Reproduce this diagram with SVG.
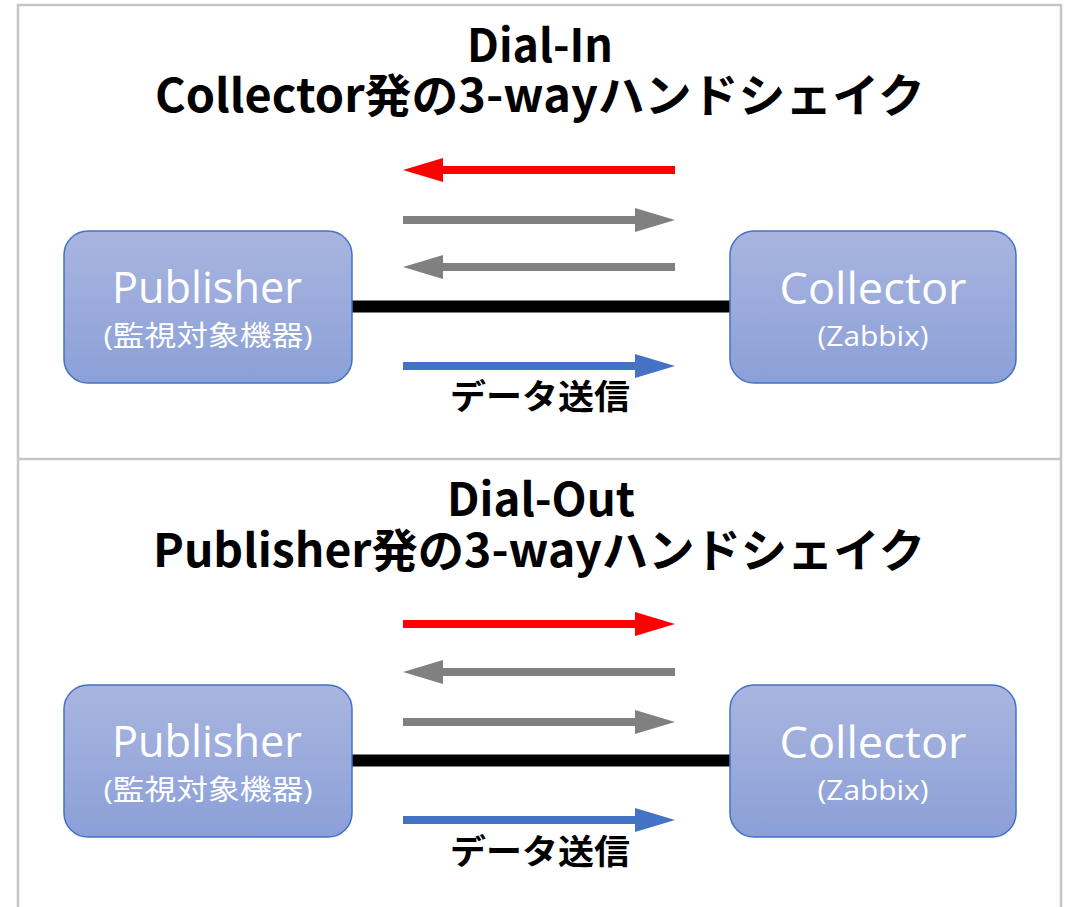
<svg xmlns="http://www.w3.org/2000/svg" width="1066" height="907" viewBox="0 0 1066 907">
  <style>
    .frame { stroke: #C6C6C6; stroke-width: 2.5; fill: none; }
    .title { font-family: "Noto Sans CJK JP", "Liberation Sans", sans-serif; font-weight: 700; font-size: 46px; fill: #000; text-anchor: middle; }
    .box { fill: url(#boxGrad); stroke: #4472C4; stroke-width: 1.5; }
    .main { font-family: "Open Sans", "Noto Sans CJK JP", sans-serif; font-size: 44px; fill: #fff; text-anchor: middle; }
    .sub { font-family: "Open Sans", "Noto Sans CJK JP", sans-serif; font-size: 28px; fill: #fff; text-anchor: middle; }
    .label { font-family: "Noto Sans CJK JP", "Liberation Sans", sans-serif; font-weight: 700; font-size: 34px; fill: #000; text-anchor: middle; }
    .link { stroke: #000; stroke-width: 12; }
    .a-red { stroke: #FF0000; stroke-width: 8; fill: none; marker-end: url(#hRed); }
    .a-gray { stroke: #808080; stroke-width: 8; fill: none; marker-end: url(#hGray); }
    .a-blue { stroke: #4472C4; stroke-width: 8; fill: none; marker-end: url(#hBlue); }
  </style>
  <defs>
    <linearGradient id="boxGrad" x1="0" y1="0" x2="0" y2="1">
      <stop offset="0" stop-color="#A9B5DF"/>
      <stop offset="1" stop-color="#8BA0D8"/>
    </linearGradient>
    <marker id="hRed" markerUnits="userSpaceOnUse" markerWidth="40" markerHeight="24" refX="0" refY="12" orient="auto" overflow="visible">
      <path d="M0,0 L40,12 L0,24 Z" fill="#FF0000"/>
    </marker>
    <marker id="hGray" markerUnits="userSpaceOnUse" markerWidth="40" markerHeight="24" refX="0" refY="12" orient="auto" overflow="visible">
      <path d="M0,0 L40,12 L0,24 Z" fill="#808080"/>
    </marker>
    <marker id="hBlue" markerUnits="userSpaceOnUse" markerWidth="40" markerHeight="24" refX="0" refY="12" orient="auto" overflow="visible">
      <path d="M0,0 L40,12 L0,24 Z" fill="#4472C4"/>
    </marker>
  </defs>

  <rect width="1066" height="907" fill="#fff"/>

  <g id="frame">
    <path class="frame" d="M18,910 L18,5 L1061,5 L1061,910"/>
    <line class="frame" x1="18" y1="459" x2="1061" y2="459"/>
  </g>

  <g id="title-dial-in">
    <text class="title"><tspan x="540" y="62" textLength="146" lengthAdjust="spacingAndGlyphs">Dial-In</tspan><tspan x="540" y="112" textLength="770" lengthAdjust="spacingAndGlyphs">Collector発の3-wayハンドシェイク</tspan></text>
  </g>

  <g id="title-dial-out">
    <text class="title"><tspan x="541" y="516" textLength="188" lengthAdjust="spacingAndGlyphs">Dial-Out</tspan><tspan x="539" y="567" textLength="772" lengthAdjust="spacingAndGlyphs">Publisher発の3-wayハンドシェイク</tspan></text>
  </g>

  <g id="connectors">
    <line class="link" x1="352" y1="306.5" x2="730" y2="306.5"/>
    <path class="a-red" d="M675,170 L443,170"/>
    <path class="a-gray" d="M403,220 L635,220"/>
    <path class="a-gray" d="M675,267 L443,267"/>
    <path class="a-blue" d="M403,366 L635,366"/>

    <line class="link" x1="352" y1="760.5" x2="730" y2="760.5"/>
    <path class="a-red" d="M403,624 L635,624"/>
    <path class="a-gray" d="M675,672 L443,672"/>
    <path class="a-gray" d="M403,722 L635,722"/>
    <path class="a-blue" d="M403,820 L635,820"/>
  </g>

  <g id="label-send-1">
    <text class="label" x="540" y="409" textLength="180" lengthAdjust="spacingAndGlyphs">データ送信</text>
  </g>
  <g id="label-send-2">
    <text class="label" x="540" y="864" textLength="180" lengthAdjust="spacingAndGlyphs">データ送信</text>
  </g>

  <g id="publisher-1">
    <rect class="box" x="64" y="231" width="288" height="152" rx="24"/>
    <text class="main" x="207" y="303" textLength="190" lengthAdjust="spacingAndGlyphs">Publisher</text>
    <text class="sub" x="208" y="346" textLength="209" lengthAdjust="spacingAndGlyphs">(監視対象機器)</text>
  </g>
  <g id="collector-1">
    <rect class="box" x="730" y="231" width="286" height="152" rx="24"/>
    <text class="main" x="873" y="304" textLength="187" lengthAdjust="spacingAndGlyphs">Collector</text>
    <text class="sub" x="873" y="346" textLength="111" lengthAdjust="spacingAndGlyphs">(Zabbix)</text>
  </g>

  <g id="publisher-2">
    <rect class="box" x="64" y="685" width="288" height="152" rx="24"/>
    <text class="main" x="207" y="757" textLength="190" lengthAdjust="spacingAndGlyphs">Publisher</text>
    <text class="sub" x="208" y="800" textLength="209" lengthAdjust="spacingAndGlyphs">(監視対象機器)</text>
  </g>
  <g id="collector-2">
    <rect class="box" x="730" y="685" width="286" height="152" rx="24"/>
    <text class="main" x="873" y="758" textLength="187" lengthAdjust="spacingAndGlyphs">Collector</text>
    <text class="sub" x="873" y="800" textLength="111" lengthAdjust="spacingAndGlyphs">(Zabbix)</text>
  </g>
</svg>
